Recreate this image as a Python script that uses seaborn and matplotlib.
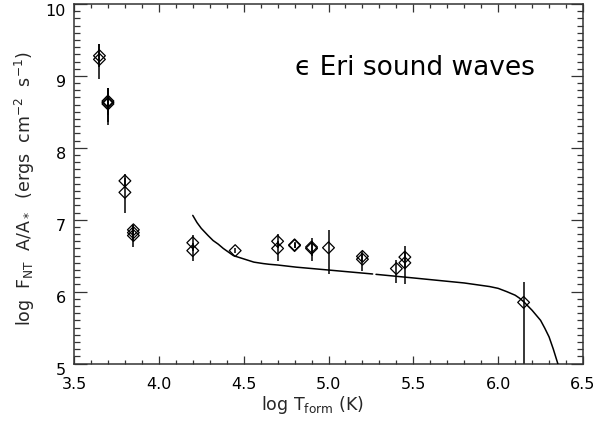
import numpy as np
import pandas as pd
import matplotlib
matplotlib.use("Agg")
import matplotlib.pyplot as plt
import matplotlib.transforms as mtransforms
import seaborn as sns
from matplotlib.ticker import MultipleLocator

# observed points: log T_form, log F_NT A/A*
x_obs = [3.65, 3.65, 3.70, 3.70, 3.70, 3.80, 3.80, 3.85, 3.85, 3.85,
         4.20, 4.20, 4.45, 4.70, 4.70, 4.80, 4.80, 4.90, 4.90, 5.00,
         5.20, 5.20, 5.40, 5.45, 5.45, 6.15]
y_obs = [9.28, 9.23, 8.65, 8.63, 8.61, 7.54, 7.38, 6.86, 6.82, 6.78,
         6.68, 6.57, 6.57, 6.70, 6.60, 6.65, 6.64, 6.62, 6.60, 6.61,
         6.49, 6.45, 6.32, 6.48, 6.40, 5.85]
err_lo = [0.16, 0.28, 0.20, 0.31, 0.25, 0.10, 0.29, 0.07, 0.12, 0.16,
          0.11, 0.14, 0.04, 0.10, 0.17, 0.04, 0.04, 0.13, 0.18, 0.37,
          0.07, 0.16, 0.20, 0.15, 0.29, 1.00]
err_hi = [0.16, 0.21, 0.18, 0.20, 0.22, 0.10, 0.20, 0.07, 0.11, 0.10,
          0.11, 0.10, 0.04, 0.10, 0.10, 0.04, 0.04, 0.13, 0.10, 0.24,
          0.07, 0.08, 0.12, 0.15, 0.15, 0.28]

# model curve (two segments, small gap near 5.27)
x_mod = [4.20, 4.225, 4.25, 4.29, 4.32, 4.35, 4.38, 4.41, 4.44, 4.48, 4.52, 4.56,
         4.615, 4.65, 4.70, 4.81, 5.00, 5.26,
         5.28, 5.50, 5.80, 5.95, 6.00, 6.05, 6.10, 6.125, 6.15, 6.175, 6.20,
         6.225, 6.25, 6.275, 6.30, 6.325, 6.35, 6.37]
y_mod = [7.06, 6.96, 6.88, 6.78, 6.71, 6.66, 6.60, 6.55, 6.50, 6.47, 6.44, 6.41,
         6.39, 6.38, 6.37, 6.34, 6.30, 6.245,
         6.24, 6.19, 6.12, 6.07, 6.045, 6.00, 5.95, 5.91, 5.86, 5.80, 5.74,
         5.67, 5.60, 5.49, 5.37, 5.20, 5.01, 4.85]
seg_mod = [0] * 18 + [1] * 18

x_ticks = [3.5, 4.0, 4.5, 5.0, 5.5, 6.0, 6.5]
y_ticks = [5, 6, 7, 8, 9, 10]

sns.set_theme(style="ticks")
plt.rcParams["font.family"] = ["DejaVu Sans"]
plt.rcParams["mathtext.default"] = "regular"
plt.rcParams["text.color"] = "black"

fig = plt.figure(figsize=(6.13, 4.26), dpi=100)
fig.subplots_adjust(left=74 / 613, right=583 / 613, bottom=1 - 363.5 / 426, top=1 - 4 / 426)
ax = fig.add_subplot(111)

obs = pd.DataFrame({"x": x_obs, "y": y_obs})
mod = pd.DataFrame({"x": x_mod, "y": y_mod, "seg": seg_mod})

ax.errorbar(x_obs, y_obs, yerr=[err_lo, err_hi], fmt="none", ecolor="black",
            elinewidth=1.1, capsize=0, zorder=2)
sns.lineplot(data=mod, x="x", y="y", units="seg", estimator=None, color="black",
             lw=1.1, ax=ax, zorder=3)
sns.scatterplot(data=obs, x="x", y="y", marker="D", s=36, facecolors="none",
                edgecolor="black", linewidth=0.9, ax=ax, zorder=4)

ax.set_xlim(3.5, 6.5)
ax.set_ylim(5, 10)
ax.set_xticks(x_ticks)
ax.set_xticklabels([f"{v:.1f}" for v in x_ticks])
ax.set_yticks(y_ticks)
ax.set_yticklabels([str(v) for v in y_ticks])
ax.xaxis.set_minor_locator(MultipleLocator(0.1))
ax.yaxis.set_minor_locator(MultipleLocator(0.1))

ax.tick_params(axis="both", which="both", direction="in", top=True, right=True,
               colors="#333333", labelcolor="black", labelsize=11.5)
ax.tick_params(axis="x", which="major", length=6, width=0.9, pad=10)
ax.tick_params(axis="x", which="minor", length=3, width=0.9)
ax.tick_params(axis="y", which="major", length=9, width=0.9, pad=6)
ax.tick_params(axis="y", which="minor", length=4.5, width=0.9)
for sp in ax.spines.values():
    sp.set_linewidth(1.1)
    sp.set_color("#333333")

# IDL-style: y tick labels sit slightly below their ticks
offset = mtransforms.ScaledTranslation(0, -4 / 72, fig.dpi_scale_trans)
for lab in ax.get_yticklabels():
    lab.set_transform(lab.get_transform() + offset)

ax.set_xlabel(r"log T$_{\rm form}$ (K)", fontsize=12.5, labelpad=3)
ax.xaxis.set_label_coords(0.468, -0.085)
ax.set_ylabel(r"log  F$_{\rm NT}$  A/A$_*$  (ergs  cm$^{-2}$  s$^{-1}$)", fontsize=12.5, labelpad=5)
ax.yaxis.set_label_coords(-0.072, 0.486)

ax.text(4.80, 9.11, "\u03f5 Eri sound waves", fontsize=19, ha="left", va="center", color="black")

fig.savefig("out.png", dpi=100)
